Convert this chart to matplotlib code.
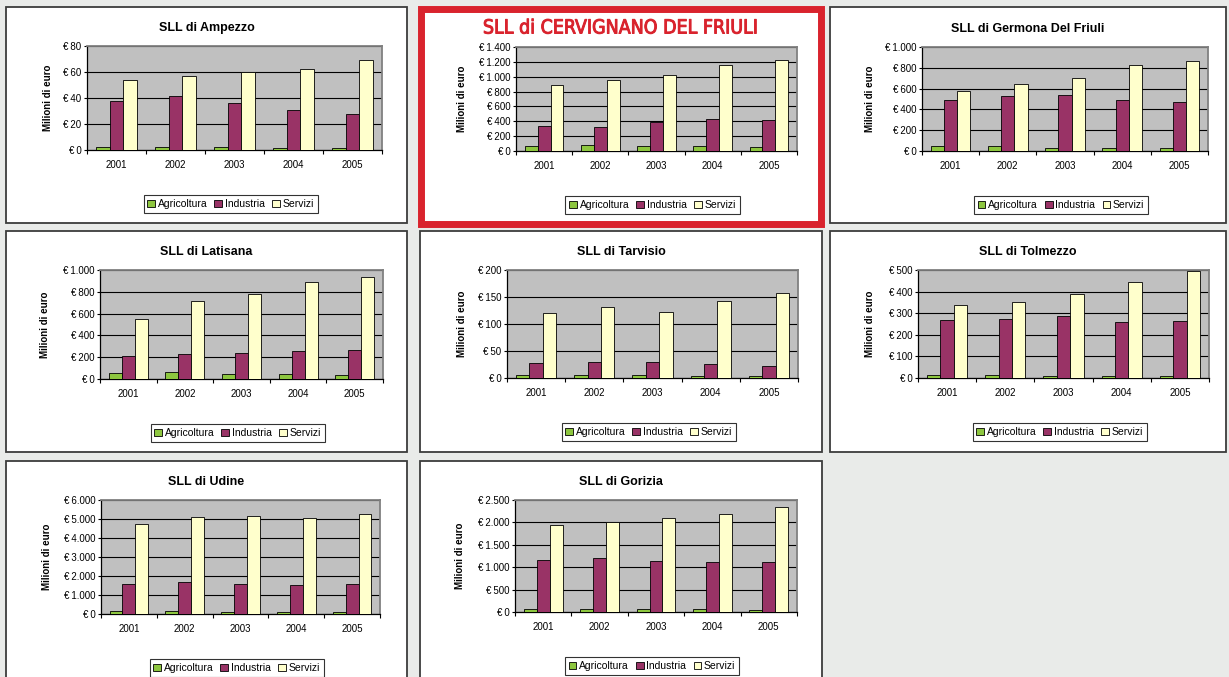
import matplotlib
matplotlib.use('Agg')
import matplotlib.pyplot as plt
import matplotlib.patheffects as pe
from matplotlib.patches import Rectangle, Patch
from matplotlib import font_manager
import numpy as np

years = ['2001', '2002', '2003', '2004', '2005']
sectors = ['Agricoltura', 'Industria', 'Servizi']

# valori in milioni di euro
ampezzo_agr = [2, 2, 2, 1.5, 1.5]
ampezzo_ind = [38, 41.5, 36, 31, 28]
ampezzo_ser = [54, 57, 60, 62.5, 69.5]

cervignano_agr = [70, 80, 65, 65, 55]
cervignano_ind = [340, 325, 390, 430, 420]
cervignano_ser = [885, 950, 1020, 1160, 1225]

germona_agr = [45, 45, 30, 30, 30]
germona_ind = [495, 530, 535, 495, 475]
germona_ser = [575, 640, 705, 825, 865]

latisana_agr = [55, 65, 45, 45, 40]
latisana_ind = [215, 230, 235, 255, 265]
latisana_ser = [555, 715, 780, 890, 935]

tarvisio_agr = [5, 6, 5, 4, 4]
tarvisio_ind = [27, 29, 29, 26, 23]
tarvisio_ser = [120, 131, 123, 142, 158]

tolmezzo_agr = [12, 12, 10, 8, 7]
tolmezzo_ind = [268, 275, 285, 260, 263]
tolmezzo_ser = [338, 352, 390, 445, 495]

udine_agr = [170, 170, 130, 130, 120]
udine_ind = [1570, 1660, 1560, 1510, 1560]
udine_ser = [4750, 5100, 5150, 5050, 5250]

gorizia_agr = [60, 60, 60, 60, 55]
gorizia_ind = [1160, 1210, 1130, 1120, 1120]
gorizia_ser = [1950, 2010, 2100, 2190, 2350]

titles = ['SLL di Ampezzo', 'SLL di CERVIGNANO DEL FRIULI', 'SLL di Germona Del Friuli',
          'SLL di Latisana', 'SLL di Tarvisio', 'SLL di Tolmezzo',
          'SLL di Udine', 'SLL di Gorizia']
y_max = [80, 1400, 1000, 1000, 200, 500, 6000, 2500]
y_step = [20, 200, 200, 200, 50, 100, 1000, 500]

colors = ['#8dc63f', '#993366', '#ffffcc']
plot_bg = '#c0c0c0'
red = '#d9232d'

plt.rcParams['font.family'] = ['Liberation Sans', 'DejaVu Sans']

W, H = 1229, 677
fig = plt.figure(figsize=(W / 100, H / 100), dpi=100)
fig.patch.set_facecolor('#e9ebe9')


def fr(l, t, r, b):
    return [l / W, 1 - b / H, (r - l) / W, (b - t) / H]


# pannelli (pixel: sinistra, alto, destra, basso)
panels = [(6, 7, 407, 223), (420, 7, 822, 223), (830, 7, 1226, 223),
          (6, 231, 407, 452), (420, 231, 822, 452), (830, 231, 1226, 452),
          (6, 461, 407, 690), (420, 461, 822, 690)]
plots = [(87, 46, 382, 150), (516, 47, 797, 151), (922, 47, 1208, 151),
         (100, 270, 383, 379), (507, 270, 798, 378), (918, 270, 1209, 378),
         (101, 500, 380, 614), (515, 500, 797, 612)]
ylabel_x = [48, 462, 870, 45, 462, 870, 47, 460]

data = [(ampezzo_agr, ampezzo_ind, ampezzo_ser),
        (cervignano_agr, cervignano_ind, cervignano_ser),
        (germona_agr, germona_ind, germona_ser),
        (latisana_agr, latisana_ind, latisana_ser),
        (tarvisio_agr, tarvisio_ind, tarvisio_ser),
        (tolmezzo_agr, tolmezzo_ind, tolmezzo_ser),
        (udine_agr, udine_ind, udine_ser),
        (gorizia_agr, gorizia_ind, gorizia_ser)]

# font stretto per il titolo rosso, se c'e'
narrow_file = None
for key in ['LiberationSansNarrow-Regular.', 'DejaVuSansCondensed.ttf']:
    for f in font_manager.fontManager.ttflist:
        if key in f.fname:
            narrow_file = f.fname
            break
    if narrow_file:
        break
if narrow_file:
    red_font = font_manager.FontProperties(fname=narrow_file, size=14)
else:
    red_font = font_manager.FontProperties(family='Liberation Sans', size=13)


def euro(v):
    s = f'{int(v):,}'.replace(',', '.')
    return '€\u2009' + s


x = np.arange(len(years))
bw = 0.23

for i in range(8):
    pl, pt, pr, pb = panels[i]
    if i == 1:
        fig.add_artist(Rectangle((420.5 / W, 1 - 223.5 / H), 400 / W, 215 / H,
                                 transform=fig.transFigure, facecolor='white',
                                 edgecolor=red, linewidth=5.0, zorder=0.5))
    else:
        fig.add_artist(Rectangle((pl / W, 1 - pb / H), (pr - pl) / W, (pb - pt) / H,
                                 transform=fig.transFigure, facecolor='white',
                                 edgecolor='#3c3c3c', linewidth=1.3, zorder=0.5))

    l, t, r, b = plots[i]
    ax = fig.add_axes(fr(l, t, r, b))
    ax.set_zorder(3)
    ax.set_facecolor(plot_bg)
    for k, vals in enumerate(data[i]):
        ax.bar(x + (k - 1) * bw, vals, width=bw, color=colors[k],
               edgecolor='black', linewidth=0.6, zorder=3)
    ax.set_xlim(-0.5, len(years) - 0.5)
    ax.set_ylim(0, y_max[i])
    ticks = np.arange(0, y_max[i] + 1, y_step[i])
    ax.set_yticks(ticks)
    ax.set_yticklabels([euro(v) for v in ticks], fontsize=7)
    ax.yaxis.grid(True, color='black', linewidth=0.8, zorder=1)
    ax.set_axisbelow(True)
    ax.set_xticks(x)
    ax.set_xticklabels(years, fontsize=7)
    ax.set_xticks(np.arange(-0.5, len(years)), minor=True)
    ax.tick_params(axis='x', which='major', length=0, pad=7)
    ax.tick_params(axis='x', which='minor', length=3, width=0.8, direction='out')
    ax.tick_params(axis='y', length=2.5, width=0.8, pad=1.5)
    for s in ['top', 'right']:
        ax.spines[s].set_color('#808080')
        ax.spines[s].set_linewidth(1.3)
    for s in ['left', 'bottom']:
        ax.spines[s].set_color('black')
        ax.spines[s].set_linewidth(0.9)

    fig.text(ylabel_x[i] / W, 1 - (t + b) / 2 / H, 'Milioni di euro', rotation=90,
             ha='center', va='center', fontsize=7, fontweight='bold', zorder=4)

    if i == 1:
        fig.text((pl + pr) / 2 / W, 1 - 28 / H, titles[i], ha='center', va='center',
                 fontproperties=red_font, color=red, zorder=4,
                 path_effects=[pe.withStroke(linewidth=0.7, foreground=red)])
    else:
        fig.text((pl + pr) / 2 / W, 1 - (t - 18) / H, titles[i], ha='center',
                 va='center', fontsize=9, fontweight='bold', zorder=4)

    handles = [Patch(facecolor=c, edgecolor='black', linewidth=0.6) for c in colors]
    leg = fig.legend(handles, sectors, loc='center', ncol=3, fontsize=7.5,
                     bbox_to_anchor=(((l + r) / 2 - 4) / W, 1 - (b + 54) / H),
                     bbox_transform=fig.transFigure, frameon=True, fancybox=False,
                     handlelength=0.75, handleheight=0.75, handletextpad=0.25,
                     columnspacing=0.7, borderpad=0.35, borderaxespad=0)
    leg.set_zorder(4)
    leg.get_frame().set_edgecolor('black')
    leg.get_frame().set_linewidth(0.8)

fig.savefig('out.png', dpi=100, facecolor=fig.get_facecolor())
